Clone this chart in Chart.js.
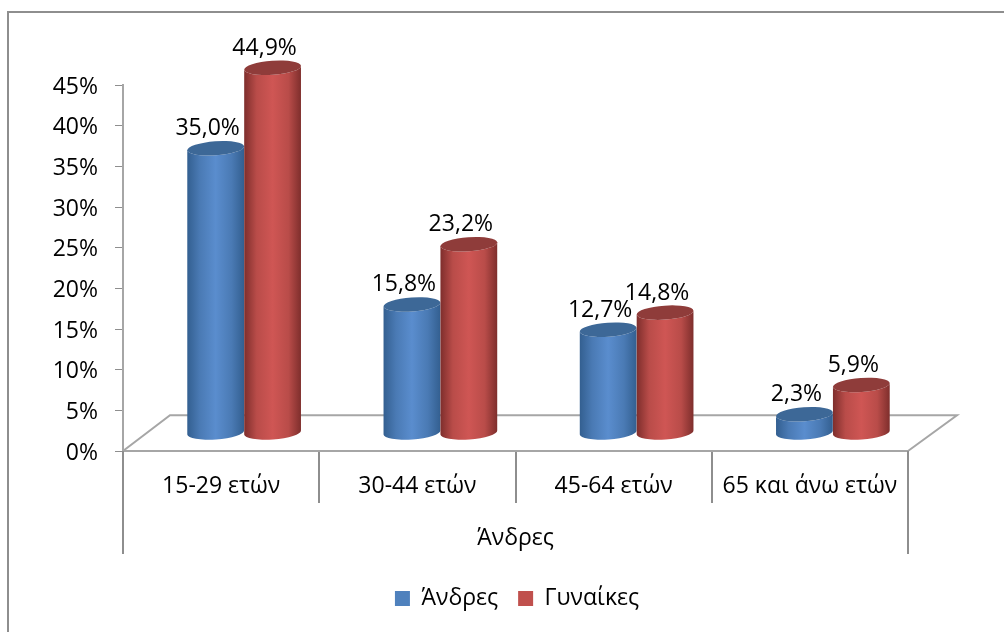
<!DOCTYPE html>
<html>
<head>
<meta charset="utf-8">
<style>
html, body { margin: 0; padding: 0; background: #fff; }
canvas { display: block; }
</style>
<script src="https://cdn.jsdelivr.net/npm/chart.js@4"></script>
</head>
<body>
<canvas id="myChart" width="1004" height="632"></canvas>
<script>
var categories = ['15-29 ετών', '30-44 ετών', '45-64 ετών', '65 και άνω ετών'];
var groupLabel = 'Άνδρες';
var men = [35.0, 15.8, 12.7, 2.3];
var women = [44.9, 23.2, 14.8, 5.9];
var yMax = 45;
var yStep = 5;

var fontName = '"Open Sans"';
var gray = '#8e8e8e';

// offset of the 3D columns from the front plane of the axes
var depthX = 23, depthY = 18;

var blue = { legend: '#4f81bd', edge: '#335f90', soft: '#4a7ab4', mid: '#5a8dce', top: '#3d6897' };
var red = { legend: '#c0504d', edge: '#7e2e2c', soft: '#b94c49', mid: '#cf5654', top: '#8f3c3a' };

function drawColumn(ctx, bar, yBase, c) {
	var x = bar.x + depthX;
	var w = bar.width;
	var rx = w / 2;
	var ry = 7;
	var tilt = -0.07;
	var yTop = bar.y - depthY;
	var yBot = yBase - depthY;

	var grad = ctx.createLinearGradient(x - rx, 0, x + rx, 0);
	grad.addColorStop(0, c.edge);
	grad.addColorStop(0.22, c.soft);
	grad.addColorStop(0.5, c.mid);
	grad.addColorStop(0.78, c.soft);
	grad.addColorStop(1, c.edge);

	ctx.beginPath();
	ctx.ellipse(x, yBot, rx, ry, tilt, 0, Math.PI);
	ctx.ellipse(x, yTop, rx, ry, tilt, Math.PI, 0, true);
	ctx.closePath();
	ctx.fillStyle = grad;
	ctx.fill();

	ctx.beginPath();
	ctx.ellipse(x, yTop, rx, ry, tilt, 0, Math.PI * 2);
	ctx.fillStyle = c.top;
	ctx.fill();
}

var cylinders = {
	id: 'cylinders',
	afterLayout: function (chart) {
		// legend sits a little right of the page centre
		var shift = (chart.width + 30 - chart.legend.left - chart.legend.right) / 2;
		chart.legend.left += shift;
		chart.legend.right += shift;
	},
	beforeDatasetsDraw: function (chart) {
		var ctx = chart.ctx;
		var area = chart.chartArea;
		var xs = chart.scales.x;
		var floorDepth = chart.scales.y.getPixelForValue(0) - chart.scales.y.getPixelForValue(4.4);

		ctx.save();
		// floor of the 3D plot
		ctx.strokeStyle = '#a6a6a6';
		ctx.lineWidth = 2;
		ctx.beginPath();
		ctx.moveTo(area.left, area.bottom);
		ctx.lineTo(area.left + 47, area.bottom - floorDepth);
		ctx.lineTo(area.right + 49, area.bottom - floorDepth);
		ctx.lineTo(area.right, area.bottom);
		ctx.stroke();

		// outer lines of the second axis level
		ctx.strokeStyle = gray;
		ctx.beginPath();
		ctx.moveTo(xs.left, area.bottom);
		ctx.lineTo(xs.left, area.bottom + 103);
		ctx.moveTo(xs.right, area.bottom);
		ctx.lineTo(xs.right, area.bottom + 103);
		ctx.stroke();

		var colors = [blue, red];
		chart.data.datasets.forEach(function (ds, i) {
			chart.getDatasetMeta(i).data.forEach(function (bar) {
				drawColumn(ctx, bar, bar.base, colors[i]);
			});
		});

		// value labels
		ctx.fillStyle = '#000';
		ctx.font = '23px ' + fontName;
		ctx.textAlign = 'center';
		ctx.textBaseline = 'alphabetic';
		chart.data.datasets.forEach(function (ds, i) {
			chart.getDatasetMeta(i).data.forEach(function (bar, j) {
				var txt = ds.data[j].toFixed(1).replace('.', ',') + '%';
				ctx.fillText(txt, bar.x + depthX - 8, bar.y - depthY - 13);
			});
		});
		ctx.restore();
		return false;
	}
};

var frame = {
	id: 'frame',
	beforeDraw: function (chart) {
		// only the top and left sides of the frame are inside the picture
		var ctx = chart.ctx;
		ctx.save();
		ctx.strokeStyle = gray;
		ctx.lineWidth = 2;
		ctx.beginPath();
		ctx.moveTo(8, chart.height);
		ctx.lineTo(8, 12);
		ctx.lineTo(chart.width, 12);
		ctx.stroke();
		ctx.restore();
	}
};

var ctx = document.getElementById('myChart').getContext('2d');
var myChart = new Chart(ctx, {
	type: 'bar',
	data: {
		labels: categories,
		datasets: [
			{ label: 'Άνδρες', data: men, backgroundColor: blue.legend },
			{ label: 'Γυναίκες', data: women, backgroundColor: red.legend }
		]
	},
	options: {
		responsive: false,
		animation: false,
		devicePixelRatio: 1,
		layout: { padding: { top: 85, right: 96, bottom: 12, left: 0 } },
		categoryPercentage: 0.58,
		barPercentage: 1,
		scales: {
			x: {
				grid: { display: true, offset: true, drawOnChartArea: false, color: gray, lineWidth: 2, tickLength: 52 },
				border: { color: '#a6a6a6', width: 2 },
				ticks: {
					color: '#000',
					font: { family: fontName, size: 23 },
					padding: -30,
					autoSkip: false,
					maxRotation: 0
				},
				title: {
					display: true,
					text: groupLabel,
					color: '#000',
					font: { family: fontName, size: 23 },
					padding: { top: 18, bottom: 15 }
				},
				afterFit: function (scale) { scale.height = 116; }
			},
			y: {
				min: 0,
				max: yMax,
				grid: { drawOnChartArea: false, color: gray, lineWidth: 1, tickLength: 8 },
				border: { color: '#a6a6a6', width: 2 },
				ticks: {
					stepSize: yStep,
					color: '#000',
					padding: 17,
					labelOffset: 2,
					font: { family: fontName, size: 23 },
					callback: function (v) { return v + '%'; }
				},
				afterFit: function (scale) { scale.width = 123; }
			}
		},
		plugins: {
			legend: {
				position: 'bottom',
				labels: {
					color: '#000',
					boxWidth: 15,
					boxHeight: 15,
					padding: 20,
					font: { family: fontName, size: 23 }
				}
			},
			tooltip: { enabled: false }
		}
	},
	plugins: [frame, cylinders]
});
</script>
</body>
</html>
